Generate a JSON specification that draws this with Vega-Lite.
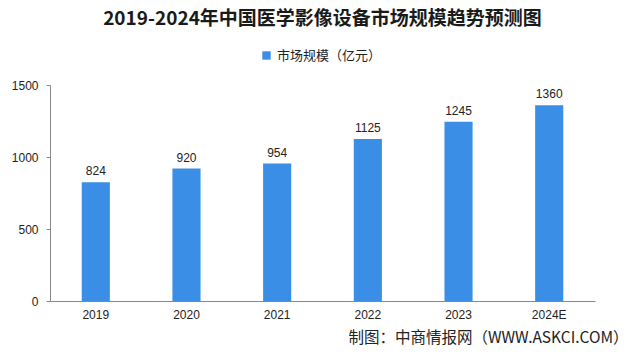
{
  "$schema": "https://vega.github.io/schema/vega-lite/v6.json",
  "autosize": "none",
  "width": 545,
  "height": 216,
  "padding": {"left": 50, "top": 85, "right": 45, "bottom": 62},
  "background": "white",
  "config": {"view": {"stroke": null}, "font": "Noto Sans CJK SC"},
  "title": {
    "text": "2019-2024年中国医学影像设备市场规模趋势预测图",
    "font": "Noto Sans CJK SC",
    "fontSize": 19,
    "fontWeight": "bold",
    "color": "#1a1a1a",
    "anchor": "middle",
    "offset": 20
  },
  "data": {
    "values": [
      {"year": "2019", "value": 824, "series": "市场规模（亿元）"},
      {"year": "2020", "value": 920, "series": "市场规模（亿元）"},
      {"year": "2021", "value": 954, "series": "市场规模（亿元）"},
      {"year": "2022", "value": 1125, "series": "市场规模（亿元）"},
      {"year": "2023", "value": 1245, "series": "市场规模（亿元）"},
      {"year": "2024E", "value": 1360, "series": "市场规模（亿元）"}
    ]
  },
  "encoding": {
    "x": {
      "field": "year",
      "type": "nominal",
      "sort": null,
      "scale": {"paddingInner": 0.69, "paddingOuter": 0.35},
      "axis": {
        "title": "制图：中商情报网（WWW.ASKCI.COM）",
        "titleFont": "Noto Sans CJK SC",
        "titleFontSize": 15.5,
        "titleFontWeight": "normal",
        "titleColor": "#222",
        "titleAnchor": "end",
        "titleAlign": "right",
        "titleX": 578,
        "titleY": 36,
        "titleBaseline": "middle",
        "labelAngle": 0,
        "labelFont": "Liberation Sans",
        "labelFontSize": 12,
        "labelColor": "#222",
        "labelPadding": 8,
        "ticks": false,
        "domainColor": "#888",
        "domainWidth": 1
      }
    },
    "y": {
      "field": "value",
      "type": "quantitative",
      "scale": {"domain": [0, 1500]},
      "axis": {
        "title": null,
        "values": [0, 500, 1000, 1500],
        "format": "d",
        "grid": false,
        "labelFont": "Liberation Sans",
        "labelFontSize": 12,
        "labelColor": "#222",
        "labelPadding": 8,
        "tickSize": 4,
        "tickColor": "#888",
        "domainColor": "#888"
      }
    }
  },
  "layer": [
    {
      "mark": {"type": "bar", "color": "#3a8ee6"},
      "encoding": {
        "color": {
          "field": "series",
          "type": "nominal",
          "scale": {"range": ["#3a8ee6"]},
          "legend": {
            "title": null,
            "orient": "none",
            "legendX": 210,
            "legendY": -36,
            "symbolType": "square",
            "symbolSize": 70,
            "labelFont": "Noto Sans CJK SC",
            "labelFontSize": 13,
            "labelColor": "#222"
          }
        }
      }
    },
    {
      "mark": {"type": "text", "dy": -11, "font": "Liberation Sans", "fontSize": 12, "color": "#222"},
      "encoding": {"text": {"field": "value", "type": "quantitative"}}
    }
  ]
}
